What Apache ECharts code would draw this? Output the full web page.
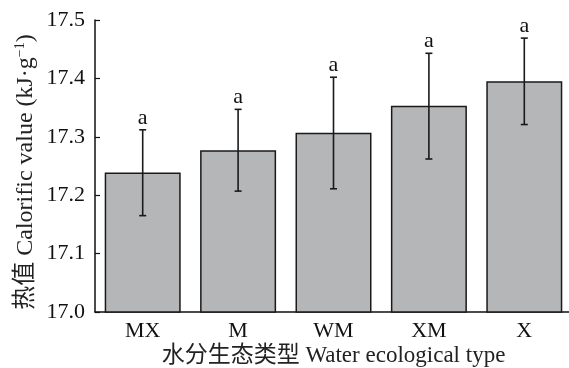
<!DOCTYPE html>
<html>
<head>
<meta charset="utf-8">
<script src="https://cdn.jsdelivr.net/npm/echarts@6/dist/echarts.min.js"></script>
<style>
html,body{margin:0;padding:0;background:#fff;}
#chart{width:569px;height:368px;}
</style>
</head>
<body>
<div id="chart"></div>
<script>
var categories = ['MX', 'M', 'WM', 'XM', 'X'];
var meanValues = [17.239, 17.277, 17.307, 17.353, 17.395];
var errorUpper = [17.312, 17.347, 17.402, 17.443, 17.469];
var errorLower = [17.165, 17.207, 17.211, 17.262, 17.321];
var sigLetters = ['a', 'a', 'a', 'a', 'a'];
var yMin = 17.0, yMax = 17.5, yInterval = 0.1;

var FONT = '"Liberation Serif", "Times New Roman", "Noto Sans CJK SC", serif';

var errData = categories.map(function (c, i) {
  return [i, errorLower[i], errorUpper[i], sigLetters[i]];
});

var chart = echarts.init(document.getElementById('chart'), null, {renderer: 'canvas'});
chart.setOption({
  animation: false,
  backgroundColor: '#ffffff',
  grid: {left: 95, top: 20, width: 477, height: 292, containLabel: false, outerBoundsMode: 'none'},
  xAxis: {
    type: 'category',
    data: categories,
    name: '水分生态类型 Water ecological type',
    nameLocation: 'middle',
    nameGap: 32,
    nameMoveOverlap: false,
    nameTextStyle: {fontFamily: FONT, fontSize: 23, color: '#222'},
    axisLine: {lineStyle: {color: '#111', width: 1.5}},
    axisTick: {show: true, inside: true, alignWithLabel: true, length: 5, lineStyle: {color: '#111', width: 1.2}},
    axisLabel: {fontFamily: FONT, fontSize: 22, color: '#111', margin: 8},
    splitLine: {show: false}
  },
  yAxis: {
    type: 'value',
    min: yMin,
    max: yMax,
    interval: yInterval,
    name: '热值 Calorific value (kJ·g{sup|−1})',
    nameLocation: 'middle',
    nameGap: 56,
    nameMoveOverlap: false,
    nameRotate: 90,
    nameTextStyle: {
      fontFamily: FONT, fontSize: 24, color: '#222', lineHeight: 26,
      padding: [0, 12, 0, 0],
      rich: {sup: {fontFamily: FONT, fontSize: 14, color: '#222', verticalAlign: 'top', lineHeight: 26}}
    },
    axisLine: {show: true, lineStyle: {color: '#111', width: 1.5}},
    axisTick: {show: true, inside: true, length: 5, lineStyle: {color: '#111', width: 1.2}},
    axisLabel: {fontFamily: FONT, fontSize: 22, color: '#111', margin: 10,
      formatter: function (v) { return v.toFixed(1); }},
    splitLine: {show: false}
  },
  series: [
    {
      type: 'bar',
      data: meanValues,
      barWidth: 76,
      itemStyle: {color: '#b5b6b8', borderColor: '#1a1a1a', borderWidth: 1.5},
      z: 2
    },
    {
      type: 'custom',
      data: errData,
      z: 5,
      renderItem: function (params, api) {
        var x = api.value(0);
        var lo = api.coord([x, api.value(1)]);
        var hi = api.coord([x, api.value(2)]);
        var cap = 3.5;
        var st = {stroke: '#1a1a1a', lineWidth: 1.6};
        return {
          type: 'group',
          children: [
            {type: 'line', shape: {x1: hi[0], y1: hi[1], x2: lo[0], y2: lo[1]}, style: st},
            {type: 'line', shape: {x1: hi[0] - cap, y1: hi[1], x2: hi[0] + cap, y2: hi[1]}, style: st},
            {type: 'line', shape: {x1: lo[0] - cap, y1: lo[1], x2: lo[0] + cap, y2: lo[1]}, style: st},
            {type: 'text', x: hi[0], y: hi[1] - 1,
              style: {text: sigLetters[params.dataIndex], fontFamily: FONT, fontSize: 22, fill: '#111',
                textAlign: 'center', textVerticalAlign: 'bottom'}}
          ]
        };
      }
    }
  ]
});
</script>
</body>
</html>
